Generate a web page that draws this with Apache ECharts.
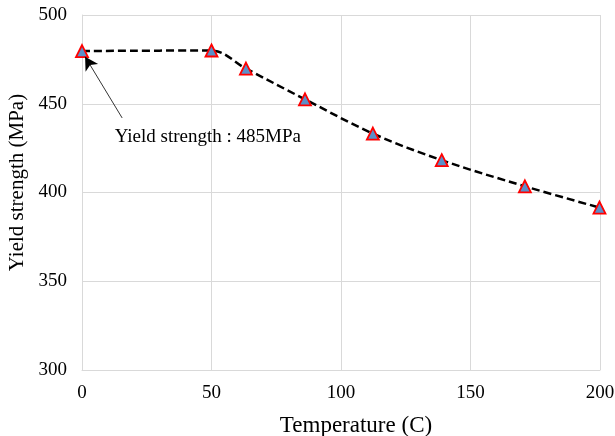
<!DOCTYPE html>
<html>
<head>
<meta charset="UTF-8">
<title></title>
<script src="https://cdn.jsdelivr.net/npm/echarts@6/dist/echarts.min.js"></script>
</head>
<body style="margin:0">
<div id="main" style="width:615px;height:436px;"></div>
<script type="text/javascript">
var temperature = [0, 50, 63.3, 86.1, 112.3, 138.9, 171, 199.8];
var yieldStrength = [479.7, 480, 469.8, 452.5, 433.2, 418.2, 403.5, 391.5];
var xTicks = [0, 50, 100, 150, 200];
var yTicks = [300, 350, 400, 450, 500];
var noteText = 'Yield strength : 485MPa';
// arrow from the note to the first point, and note position (data units)
var arrowFrom = [15.5, 442];
var arrowTo = [1.2, 476.5];
var notePos = [12.6, 431.5];

var font = 'Liberation Serif, Times New Roman, serif';
var pts = [];
for (var i = 0; i < temperature.length; i++) {
    pts.push([temperature[i], yieldStrength[i]]);
}

var myChart = echarts.init(document.getElementById('main'));
myChart.setOption({
    animation: false,
    grid: { left: 82, right: 15, top: 15, bottom: 66, outerBoundsMode: 'none', containLabel: false },
    xAxis: {
        type: 'value',
        min: xTicks[0], max: xTicks[xTicks.length - 1], interval: 50,
        name: 'Temperature (C)',
        nameLocation: 'middle', nameGap: 44,
        nameTextStyle: { fontFamily: font, fontSize: 23, color: '#000', padding: [0, 0, 0, 30] },
        axisLine: { lineStyle: { color: '#d9d9d9', width: 1 } },
        axisTick: { show: false },
        axisLabel: { fontFamily: font, fontSize: 19, color: '#000', margin: 14 },
        splitLine: { lineStyle: { color: '#d9d9d9', width: 1 } }
    },
    yAxis: {
        type: 'value',
        min: yTicks[0], max: yTicks[yTicks.length - 1], interval: 50,
        name: 'Yield strength (MPa)',
        nameLocation: 'middle', nameGap: 54,
        nameTextStyle: { fontFamily: font, fontSize: 21, color: '#000', padding: [0, 0, 0, 20] },
        axisLine: { show: true, lineStyle: { color: '#d9d9d9', width: 1 } },
        axisTick: { show: false },
        axisLabel: { fontFamily: font, fontSize: 19, color: '#000', margin: 15 },
        splitLine: { lineStyle: { color: '#d9d9d9', width: 1 } }
    },
    series: [{
        type: 'line',
        data: pts,
        smooth: 0.35,
        symbol: 'triangle',
        symbolSize: 12,
        lineStyle: { color: '#000', width: 2.5, type: [8, 4] },
        itemStyle: { color: '#5b8fc9', borderColor: '#ff0000', borderWidth: 1.8 },
        z: 3,
        markLine: {
            silent: true,
            symbol: ['none', 'arrow'],
            symbolSize: [11, 13],
            label: { show: false },
            lineStyle: { color: '#000', width: 0.8, type: 'solid' },
            data: [[{ coord: arrowFrom }, { coord: arrowTo }]]
        }
    }]
});

var p = myChart.convertToPixel({ gridIndex: 0 }, notePos);
myChart.setOption({
    graphic: [{
        type: 'text',
        x: p[0], y: p[1],
        style: {
            text: noteText, fontFamily: font, fontSize: 19, fill: '#000',
            textAlign: 'left', textVerticalAlign: 'middle'
        }
    }]
});
</script>
</body>
</html>
